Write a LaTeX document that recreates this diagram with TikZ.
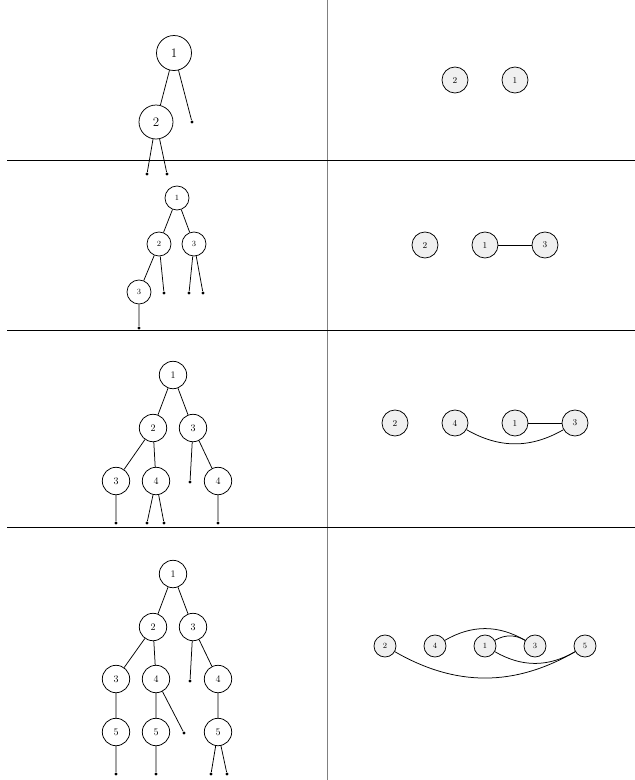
\documentclass[tikz,border=0pt]{standalone}
\usetikzlibrary{calc}
\begin{document}
\begin{tikzpicture}[x=1pt,y=-1pt,
    tn/.style={draw,circle,inner sep=0pt,minimum size=27.4pt,font=\fontsize{10}{10}\selectfont},
    gn/.style={draw,circle,fill=black!6,inner sep=0pt,minimum size=26pt,font=\fontsize{9}{9}\selectfont},
    lf/.style={circle,fill,inner sep=0pt,minimum size=3.4pt},
    every path/.style={line width=0.75pt}]
    \useasboundingbox (0,0) rectangle (635,780);
    % dividers
    \draw[black!50,line width=1pt] (327,0) -- (327,780);
    \draw (7,160) -- (635,160);
    \draw (7,330) -- (635,330);
    \draw (7,527) -- (635,527);

    % first row, tree
    \begin{scope}[every node/.append style={}]
    \node[tn,minimum size=35pt,font=\fontsize{13}{13}\selectfont] (a1) at (174,53) {1};
    \node[tn,minimum size=34pt,font=\fontsize{13}{13}\selectfont] (a2) at (156,122) {2};
    \end{scope}
    \node[lf] (a1r) at (192,122) {};
    \node[lf] (a2l) at (147,174) {};
    \node[lf] (a2r) at (167,174) {};
    \draw (a1) -- (a2) (a1) -- (a1r) (a2) -- (a2l) (a2) -- (a2r);

    % second row, tree
    \begin{scope}[tn/.append style={minimum size=24pt,font=\fontsize{8}{8}\selectfont}]
    \node[tn] (b1) at (177,198) {1};
    \node[tn] (b2) at (159,244) {2};
    \node[tn] (b3) at (194,244) {3};
    \node[tn] (b4) at (139,292) {3};
    \end{scope}
    \node[lf] (b2r) at (164,293) {};
    \node[lf] (b3l) at (189,293) {};
    \node[lf] (b3r) at (203,293) {};
    \node[lf] (b4l) at (139,328) {};
    \draw (b1) -- (b2) (b1) -- (b3) (b2) -- (b4) (b2) -- (b2r)
          (b3) -- (b3l) (b3) -- (b3r) (b4) -- (b4l);

    % third row, tree
    \node[tn] (c1) at (173,375) {1};
    \node[tn] (c2) at (153,428) {2};
    \node[tn] (c3) at (193,428) {3};
    \node[tn] (c4) at (116,481) {3};
    \node[tn] (c5) at (156,481) {4};
    \node[tn] (c6) at (218,481) {4};
    \node[lf] (c3l) at (190,482) {};
    \node[lf] (c4l) at (116,523) {};
    \node[lf] (c5l) at (147,523) {};
    \node[lf] (c5r) at (164,523) {};
    \node[lf] (c6l) at (218,523) {};
    \draw (c1) -- (c2) (c1) -- (c3) (c2) -- (c4) (c2) -- (c5)
          (c3) -- (c3l) (c3) -- (c6) (c4) -- (c4l)
          (c5) -- (c5l) (c5) -- (c5r) (c6) -- (c6l);

    % fourth row, tree
    \node[tn] (d1) at (173,574) {1};
    \node[tn] (d2) at (153,627) {2};
    \node[tn] (d3) at (193,627) {3};
    \node[tn] (d4) at (116,679) {3};
    \node[tn] (d5) at (156,679) {4};
    \node[tn] (d6) at (218,679) {4};
    \node[tn] (d7) at (116,732) {5};
    \node[tn] (d8) at (156,732) {5};
    \node[tn] (d9) at (218,732) {5};
    \node[lf] (d3l) at (190,681) {};
    \node[lf] (d5r) at (184,733) {};
    \node[lf] (d7l) at (116,774) {};
    \node[lf] (d8l) at (156,774) {};
    \node[lf] (d9l) at (211,774) {};
    \node[lf] (d9r) at (227,774) {};
    \draw (d1) -- (d2) (d1) -- (d3) (d2) -- (d4) (d2) -- (d5)
          (d3) -- (d3l) (d3) -- (d6) (d4) -- (d7) (d5) -- (d8)
          (d5) -- (d5r) (d6) -- (d9) (d7) -- (d7l) (d8) -- (d8l)
          (d9) -- (d9l) (d9) -- (d9r);

    % graphs on the right
    \node[gn] (e2) at (455,80) {2};
    \node[gn] (e1) at (515,80) {1};

    \node[gn] (f2) at (425,245) {2};
    \node[gn] (f1) at (485,245) {1};
    \node[gn] (f3) at (545,245) {3};
    \draw (f1) -- (f3);

    \node[gn] (g2) at (395,423) {2};
    \node[gn] (g4) at (455,423) {4};
    \node[gn] (g1) at (515,423) {1};
    \node[gn] (g3) at (575,423) {3};
    \draw (g1) -- (g3);
    \draw (g4) to[bend right=30] (g3);

    \begin{scope}[gn/.append style={minimum size=22pt,font=\fontsize{8}{8}\selectfont}]
    \node[gn] (h2) at (385,646) {2};
    \node[gn] (h4) at (435,646) {4};
    \node[gn] (h1) at (485,646) {1};
    \node[gn] (h3) at (535,646) {3};
    \node[gn] (h5) at (585,646) {5};
    \end{scope}
    \draw (h4) to[bend left=30] (h3);
    \draw (h1) to[bend left=30] (h3);
    \draw (h1) to[bend right=30] (h5);
    \draw (h2) to[bend right=30] (h5);
\end{tikzpicture}
\end{document}
